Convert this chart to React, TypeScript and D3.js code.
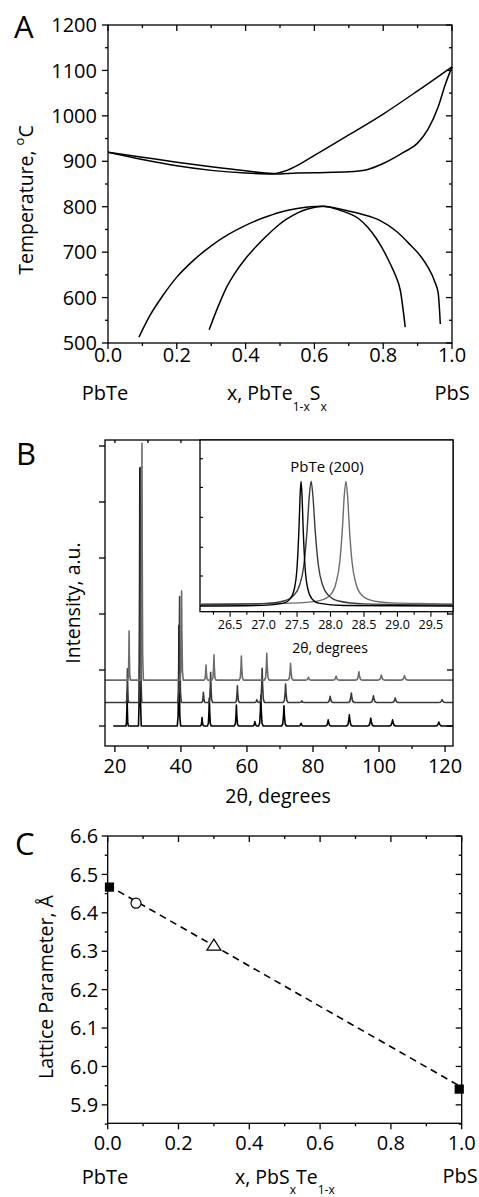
import * as d3 from 'd3';

const FONT = '"Open Sans", sans-serif';

// ---- panel A: PbTe-PbS phase diagram (x, T in °C)
const liquidus = [[0, 920], [0.1, 909], [0.2, 898], [0.3, 888], [0.4, 879], [0.48, 873], [0.52, 880], [0.56, 895], [0.6, 913], [0.7, 958], [0.8, 1004], [0.9, 1055], [1.0, 1108]];
const solidus = [[0, 920], [0.1, 904], [0.2, 890], [0.3, 880], [0.4, 874], [0.48, 872], [0.55, 874], [0.6, 875], [0.7, 877], [0.75, 881], [0.8, 895], [0.86, 920], [0.9, 940], [0.93, 970], [0.96, 1020], [0.98, 1068], [1.0, 1108]];
const binodal = [[0.09, 513], [0.12, 558], [0.16, 605], [0.2, 645], [0.25, 683], [0.3, 714], [0.35, 739], [0.4, 759], [0.45, 775], [0.5, 788], [0.55, 796], [0.62, 801], [0.69, 792], [0.74, 783], [0.79, 770], [0.84, 745], [0.88, 715], [0.91, 690], [0.93, 667], [0.95, 635], [0.96, 609], [0.966, 542]];
const spinodal = [[0.294, 529], [0.32, 580], [0.345, 623], [0.37, 655], [0.4, 686], [0.43, 712], [0.46, 735], [0.49, 756], [0.52, 773], [0.55, 786], [0.58, 795], [0.627, 801], [0.675, 792], [0.728, 774], [0.755, 755], [0.78, 730], [0.8, 705], [0.82, 675], [0.835, 650], [0.85, 615], [0.864, 535]];
const aXTicks = [0, 0.2, 0.4, 0.6, 0.8, 1.0];
const aYTicks = [500, 600, 700, 800, 900, 1000, 1100, 1200];

// ---- panel B: XRD patterns (peak positions in 2θ, heights in a.u.)
const blackPos = [23.7, 27.55, 39.4, 46.4, 48.6, 56.8, 62.4, 64.2, 71.2, 76.4, 84.6, 91.0, 97.5, 104.1, 118.1];
const blackHt = [0.58, 4.6, 1.8, 0.15, 0.5, 0.375, 0.08, 0.55, 0.36, 0.05, 0.11, 0.2, 0.14, 0.11, 0.07];
const darkPos = [23.8, 27.7, 39.6, 46.8, 49.0, 57.1, 63.0, 64.6, 71.7, 76.6, 85.2, 91.6, 98.3, 104.9, 119.1];
const darkHt = [0.6, 4.2, 1.89, 0.18, 0.54, 0.3, 0.05, 0.61, 0.33, 0.03, 0.11, 0.17, 0.12, 0.08, 0.05];
const lightPos = [24.3, 28.2, 40.2, 47.6, 50.0, 58.3, 66.0, 73.2, 78.6, 87.0, 93.9, 100.7, 107.7];
const lightHt = [0.875, 4.23, 1.59, 0.27, 0.45, 0.43, 0.48, 0.3, 0.05, 0.07, 0.15, 0.09, 0.08];
const traceOffsets = [0, 0.42, 0.82];
const bXTicks = [20, 40, 60, 80, 100, 120];
const bYTicks = [0, 1, 2, 3, 4, 5];

// inset: PbTe (200) reflection
const insetBlack = [[26.05, 0], [27.0, 0.005], [27.3, 0.023], [27.4, 0.059], [27.46, 0.138], [27.5, 0.308], [27.53, 0.64], [27.545, 0.877], [27.56, 1], [27.575, 0.877], [27.59, 0.64], [27.62, 0.308], [27.66, 0.138], [27.72, 0.059], [27.82, 0.023], [28.2, 0.004], [29.83, 0]];
const insetDark = [[26.05, 0.008], [27.0, 0.019], [27.3, 0.04], [27.45, 0.085], [27.54, 0.17], [27.6, 0.32], [27.65, 0.61], [27.68, 0.86], [27.71, 1], [27.74, 0.86], [27.77, 0.61], [27.82, 0.32], [27.88, 0.17], [27.97, 0.085], [28.12, 0.04], [28.5, 0.017], [29.83, 0.008]];
const insetLight = [[26.05, 0.016], [27.2, 0.02], [27.6, 0.027], [27.85, 0.045], [28.0, 0.09], [28.08, 0.18], [28.14, 0.36], [28.18, 0.64], [28.205, 0.88], [28.23, 1], [28.255, 0.88], [28.28, 0.64], [28.32, 0.36], [28.38, 0.18], [28.46, 0.09], [28.61, 0.045], [28.86, 0.027], [29.3, 0.02], [29.83, 0.016]];
const insetXTicks = [26.5, 27.0, 27.5, 28.0, 28.5, 29.0, 29.5];
const insetYTicks = [0.24, 0.47, 0.71, 0.95, 1.18];

// ---- panel C: lattice parameter
const cX = [0.005, 0.08, 0.3, 0.993];
const cY = [6.467, 6.425, 6.316, 5.941];
const cSymbol = ['square', 'circle', 'triangle', 'square'];
const vegardX = [0, 1];
const vegardY = [6.472, 5.946];
const cXTicks = [0, 0.2, 0.4, 0.6, 0.8, 1.0];
const cYTicks = [5.9, 6.0, 6.1, 6.2, 6.3, 6.4, 6.5, 6.6];

const COLORS = ['#000000', '#3a3a3a', '#6c6c6c'];
const LABEL = 20;

function Axes({ x, y, xMajor, xMinor, yMajor, yMinor, xFmt, yFmt, xLabOff, yLabOff, topLen = 6, showYLabels = true }) {
  const [x0, x1] = x.range();
  const [y0, y1] = y.range();
  return (
    <g stroke="#000" strokeWidth={1.3}>
      <rect x={x0} y={y1} width={x1 - x0} height={y0 - y1} fill="none" />
      {xMajor.map((d) => (
        <g key={'xM' + d}>
          <line x1={x(d)} x2={x(d)} y1={y0} y2={y0 + 6} />
          <line x1={x(d)} x2={x(d)} y1={y1} y2={y1 + topLen} />
        </g>
      ))}
      {xMinor.map((d) => (
        <g key={'xm' + d}>
          <line x1={x(d)} x2={x(d)} y1={y0} y2={y0 + 3} />
          <line x1={x(d)} x2={x(d)} y1={y1} y2={y1 + 3} />
        </g>
      ))}
      {yMajor.map((d) => (
        <g key={'yM' + d}>
          <line x1={x0 - 6} x2={x0} y1={y(d)} y2={y(d)} />
          <line x1={x1 - 6} x2={x1} y1={y(d)} y2={y(d)} />
        </g>
      ))}
      {yMinor.map((d) => (
        <g key={'ym' + d}>
          <line x1={x0 - 3} x2={x0} y1={y(d)} y2={y(d)} />
          <line x1={x1 - 3} x2={x1} y1={y(d)} y2={y(d)} />
        </g>
      ))}
      <g stroke="none" fill="#000" fontSize={LABEL}>
        {xMajor.map((d) => (
          <text key={'xl' + d} x={x(d)} y={y0 + xLabOff} textAnchor="middle">{xFmt(d)}</text>
        ))}
        {showYLabels && yMajor.map((d) => (
          <text key={'yl' + d} x={x0 - yLabOff} y={y(d)} dy="0.36em" textAnchor="end">{yFmt(d)}</text>
        ))}
      </g>
    </g>
  );
}

function tracePoints(pos, ht, start, end, base) {
  const pts = [[start, base]];
  pos.forEach((p, i) => {
    const h = ht[i];
    const w = 0.12 + (p - 20) * 0.0025;
    pts.push(
      [p - 3 * w, base], [p - 1.5 * w, base + 0.1 * h], [p - 0.5 * w, base + 0.55 * h],
      [p, base + h],
      [p + 0.5 * w, base + 0.55 * h], [p + 1.5 * w, base + 0.1 * h], [p + 3 * w, base]
    );
  });
  pts.push([end, base]);
  return pts;
}

export default function App() {
  // panel A scales
  const ax = d3.scaleLinear().domain([0, 1]).range([108, 452]);
  const ay = d3.scaleLinear().domain([500, 1200]).range([343, 25]);
  const aLine = d3.line().x((d) => ax(d[0])).y((d) => ay(d[1])).curve(d3.curveMonotoneX);

  // panel B scales
  const bx = d3.scaleLinear().domain([17, 122.4]).range([105, 453]);
  const by = d3.scaleLinear().domain([-0.357, 5.107]).range([746, 440]);
  const bLine = d3.line().x((d) => bx(d[0])).y((d) => by(d[1]));
  const traces = [
    tracePoints(blackPos, blackHt, 19.5, 122.4, traceOffsets[0]),
    tracePoints(darkPos, darkHt, 17, 122.4, traceOffsets[1]),
    tracePoints(lightPos, lightHt, 17, 122.4, traceOffsets[2]),
  ];
  const ix = d3.scaleLinear().domain([26.05, 29.83]).range([200, 453]);
  const iy = d3.scaleLinear().domain([-0.046, 1.33]).range([611.7, 440]);
  const iLine = d3.line().x((d) => ix(d[0])).y((d) => iy(d[1])).curve(d3.curveMonotoneX);

  // panel C scales
  const cx = d3.scaleLinear().domain([0, 1]).range([107.7, 461.7]);
  const cy = d3.scaleLinear().domain([5.852, 6.6]).range([1123.3, 836]);

  const f1 = d3.format('.1f');
  const f0 = d3.format('d');

  return (
    <svg width={479} height={1197} style={{ position: 'absolute', left: 0, top: 0 }} fontFamily={FONT}>
      {/* ---------- A ---------- */}
      <text x={14} y={38} fontSize={31}>A</text>
      <g fill="none" stroke="#000" strokeWidth={1.5}>
        {[liquidus, solidus, binodal, spinodal].map((c, i) => (
          <path key={i} d={aLine(c)} />
        ))}
      </g>
      <Axes x={ax} y={ay} xMajor={aXTicks} xMinor={d3.range(0.1, 1, 0.2)}
        yMajor={aYTicks} yMinor={d3.range(550, 1200, 100)}
        xFmt={f1} yFmt={f0} xLabOff={19} yLabOff={11} />
      <text transform="translate(33,200) rotate(-90)" textAnchor="middle" fontSize={19.5}>
        Temperature, <tspan fontSize={13} dy={-9}>o</tspan><tspan dy={9}>C</tspan>
      </text>
      <text x={105} y={400} textAnchor="middle" fontSize={LABEL}>PbTe</text>
      <text x={452} y={400} textAnchor="middle" fontSize={LABEL}>PbS</text>
      <text x={227} y={400} fontSize={19.5}>
        x, PbTe<tspan fontSize={12} dy={11}>1-x</tspan><tspan dy={-11}>S</tspan><tspan fontSize={12} dy={11}>x</tspan>
      </text>

      {/* ---------- B ---------- */}
      <text x={16} y={465} fontSize={31}>B</text>
      <g fill="none" strokeWidth={1.6} strokeLinejoin="round">
        {traces.map((t, i) => (
          <path key={i} d={bLine(t)} stroke={COLORS[i]} />
        ))}
      </g>
      <Axes x={bx} y={by} xMajor={bXTicks} xMinor={d3.range(30, 121, 20)}
        yMajor={bYTicks} yMinor={[]} xFmt={f0} yFmt={f0} xLabOff={27} yLabOff={10}
        topLen={3} showYLabels={false} />
      {/* inset */}
      <rect x={ix.range()[0]} y={iy.range()[1]} width={ix.range()[1] - ix.range()[0]} height={iy.range()[0] - iy.range()[1]}
        fill="#fff" stroke="#000" strokeWidth={1.3} />
      <g fill="none" strokeWidth={1.4}>
        {[insetLight, insetDark, insetBlack].map((c, i) => (
          <path key={i} d={iLine(c)} stroke={COLORS[2 - i]} />
        ))}
      </g>
      <g stroke="#000" strokeWidth={1.1}>
        {insetYTicks.map((d) => (
          <line key={d} x1={ix.range()[0]} x2={ix.range()[0] + 3} y1={iy(d)} y2={iy(d)} />
        ))}
        {d3.range(26.25, 29.8, 0.25).map((d) => (
          <line key={d} x1={ix(d)} x2={ix(d)} y1={iy.range()[0]} y2={iy.range()[0] + (Math.abs(d * 2 - Math.round(d * 2)) < 0.01 ? 5 : 3)} />
        ))}
      </g>
      <g fontSize={12.5} textAnchor="middle">
        {insetXTicks.map((d) => (
          <text key={d} x={ix(d)} y={629}>{f1(d)}</text>
        ))}
      </g>
      <text x={327} y={472} textAnchor="middle" fontSize={15}>PbTe (200)</text>
      <text x={330} y={653} textAnchor="middle" fontSize={14}>2θ, degrees</text>
      <text x={278} y={803} textAnchor="middle" fontSize={19.5}>2θ, degrees</text>
      <text transform="translate(80,603) rotate(-90)" textAnchor="middle" fontSize={19.5}>Intensity, a.u.</text>

      {/* ---------- C ---------- */}
      <text x={15} y={855} fontSize={31}>C</text>
      <line x1={cx(vegardX[0])} y1={cy(vegardY[0])} x2={cx(vegardX[1])} y2={cy(vegardY[1])}
        stroke="#000" strokeWidth={1.6} strokeDasharray="7,5" />
      <g stroke="#000" strokeWidth={1.2}>
        {cX.map((v, i) => {
          const px = cx(v), py = cy(cY[i]);
          if (cSymbol[i] === 'square') return <rect key={i} x={px - 4} y={py - 4} width={8} height={8} fill="#000" />;
          if (cSymbol[i] === 'circle') return <circle key={i} cx={px} cy={py} r={5} fill="#fff" />;
          return <path key={i} d={`M${px},${py - 6}L${px + 7},${py + 5}L${px - 7},${py + 5}Z`} fill="#fff" />;
        })}
      </g>
      <Axes x={cx} y={cy} xMajor={cXTicks} xMinor={d3.range(0.1, 1, 0.2)}
        yMajor={cYTicks} yMinor={d3.range(5.85, 6.6, 0.1)}
        xFmt={f1} yFmt={f1} xLabOff={27} yLabOff={9.5} />
      <text transform="translate(53,987) rotate(-90)" textAnchor="middle" fontSize={19.5}>Lattice Parameter, Å</text>
      <text x={105} y={1184} textAnchor="middle" fontSize={LABEL}>PbTe</text>
      <text x={460} y={1183} textAnchor="middle" fontSize={LABEL}>PbS</text>
      <text x={235} y={1184} fontSize={19.5}>
        x, PbS<tspan fontSize={12} dy={10}>x</tspan><tspan dy={-10}>Te</tspan><tspan fontSize={12} dy={10}>1-x</tspan>
      </text>
    </svg>
  );
}
